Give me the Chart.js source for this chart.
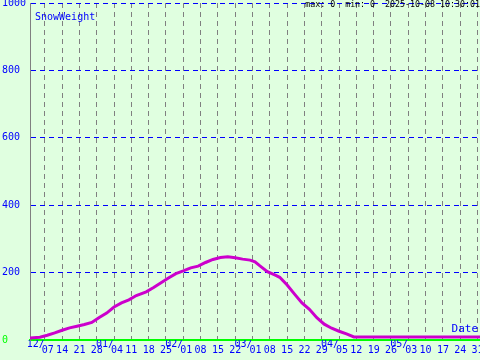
<!DOCTYPE html>
<html>
<head>
<meta charset="utf-8">
<script src="https://cdn.jsdelivr.net/npm/chart.js@4"></script>
<style>
  html, body { margin: 0; padding: 0; background: #e0ffe0; }
  canvas { display: block; }
</style>
</head>
<body>
<canvas id="SnowGraph" width="480" height="360"></canvas>
<script>
Chart.defaults.font.family = '"DejaVu Sans Mono", monospace';
Chart.defaults.font.size = 10;

// Data
const seasonStart = '2024-12-01';
const seasonEnd = '2025-06-01';

const obsDates = [
  '2024-12-01', '2024-12-05', '2024-12-08', '2024-12-11', '2024-12-14', '2024-12-17',
  '2024-12-20', '2024-12-23', '2024-12-26', '2024-12-29', '2025-01-01', '2025-01-04',
  '2025-01-07', '2025-01-10', '2025-01-13', '2025-01-17', '2025-01-20', '2025-01-23',
  '2025-01-26', '2025-01-29', '2025-02-01', '2025-02-04', '2025-02-07', '2025-02-10',
  '2025-02-13', '2025-02-16', '2025-02-19', '2025-02-22', '2025-02-25', '2025-02-28',
  '2025-03-02', '2025-03-04', '2025-03-07', '2025-03-10', '2025-03-12', '2025-03-15',
  '2025-03-18', '2025-03-21', '2025-03-24', '2025-03-27', '2025-03-30', '2025-04-02',
  '2025-04-05', '2025-04-08', '2025-04-11', '2025-04-20', '2025-05-01', '2025-05-15',
  '2025-06-01'
];
const snowWeight = [
  6, 8, 14, 21, 29, 36,
  41, 46, 52, 67, 80, 98,
  110, 119, 132, 143, 156, 170,
  184, 197, 205, 214, 219, 230,
  239, 245, 247, 244, 240, 237,
  232, 220, 203, 193, 186, 163,
  136, 110, 91, 66, 47, 35,
  26, 18, 9, 9, 9, 9,
  9
];

const xTickLabels = ['12/07', '14', '21', '28', '01/04', '11', '18', '25',
  '02/01', '08', '15', '22', '03/01', '08', '15', '22', '29',
  '04/05', '12', '19', '26', '05/03', '10', '17', '24', '31'];
const firstTickDay = 6;
const yTicks = [0, 200, 400, 600, 800, 1000];

const yTitle = 'SnowWeight';
const xTitle = 'Date';
const stampText = 'max: 0  min: 0  2025-10-08 10:30:01';

// day number since season start
function dayOf(s) {
  return (Date.parse(s) - Date.parse(seasonStart)) / 86400000;
}

let points = [];
for (let i = 0; i < obsDates.length; i++) {
  points.push({x: dayOf(obsDates[i]), y: snowWeight[i]});
}

// extra texts
const chartText = {
  id: 'chartText',
  afterDraw(chart) {
    const ctx = chart.ctx;
    const area = chart.chartArea;
    ctx.save();
    ctx.fillStyle = '#0000ff';
    ctx.font = '10px "DejaVu Sans Mono"';
    ctx.textAlign = 'left';
    ctx.textBaseline = 'alphabetic';
    ctx.fillText(yTitle, area.left + 5, 20);
    ctx.font = '11px "DejaVu Sans Mono"';
    ctx.textAlign = 'right';
    ctx.fillText(xTitle, area.right - 2, 332);
    ctx.fillStyle = '#000000';
    ctx.font = '8.3px "DejaVu Sans Mono"';
    ctx.fillText(stampText, chart.width, 7);
    ctx.restore();
  }
};

var ctx = document.getElementById('SnowGraph').getContext('2d');

var SnowGraph = new Chart(ctx, {
  type: 'line',
  data: {
    datasets: [{
      label: yTitle,
      data: points,
      borderColor: '#cc00cc',
      borderWidth: 3,
      pointRadius: 0,
      tension: 0,
      fill: false
    }]
  },
  options: {
    responsive: false,
    animation: false,
    devicePixelRatio: 1,
    layout: {
      padding: {top: 3, left: 2, right: 0, bottom: 0}
    },
    plugins: {
      legend: {display: false},
      tooltip: {enabled: false}
    },
    scales: {
      x: {
        type: 'linear',
        min: 0,
        max: dayOf(seasonEnd),
        afterBuildTicks: (scale) => {
          scale.ticks = xTickLabels.map((l, i) => ({value: firstTickDay + 7 * i}));
        },
        afterFit: (scale) => {
          scale.height = 20;
          scale.paddingLeft = 0;
          scale.paddingRight = 0;
        },
        grid: {
          color: '#808080',
          lineWidth: 1,
          drawTicks: false
        },
        border: {
          color: '#00ff00',
          width: 2,
          dash: [5, 4]
        },
        ticks: {
          autoSkip: false,
          maxRotation: 0,
          minRotation: 0,
          padding: 1,
          color: '#0000ff',
          font: {size: 10, lineHeight: '6px'},
          callback: (value, index) => {
            const parts = xTickLabels[index].split('/');
            if (parts.length === 2) {
              return [parts[0] + '/   ', ' ' + parts[1]];
            }
            return ['', parts[0]];
          }
        }
      },
      y: {
        min: 0,
        max: 1000,
        afterBuildTicks: (scale) => {
          scale.ticks = yTicks.map(v => ({value: v}));
        },
        afterFit: (scale) => {
          scale.width = 28;
          scale.paddingTop = 0;
          scale.paddingBottom = 0;
        },
        grid: {
          color: (c) => (c.tick && c.tick.value === 0) ? 'rgba(0,0,0,0)' : '#0000ff',
          lineWidth: 1,
          drawTicks: false
        },
        border: {
          color: '#808080',
          width: 1,
          dash: [5, 4]
        },
        ticks: {
          crossAlign: 'far',
          padding: 0,
          color: (c) => (c.tick && c.tick.value === 0) ? '#00ff00' : '#0000ff',
          callback: (v) => String(v)
        }
      }
    }
  },
  plugins: [chartText]
});
</script>
</body>
</html>
